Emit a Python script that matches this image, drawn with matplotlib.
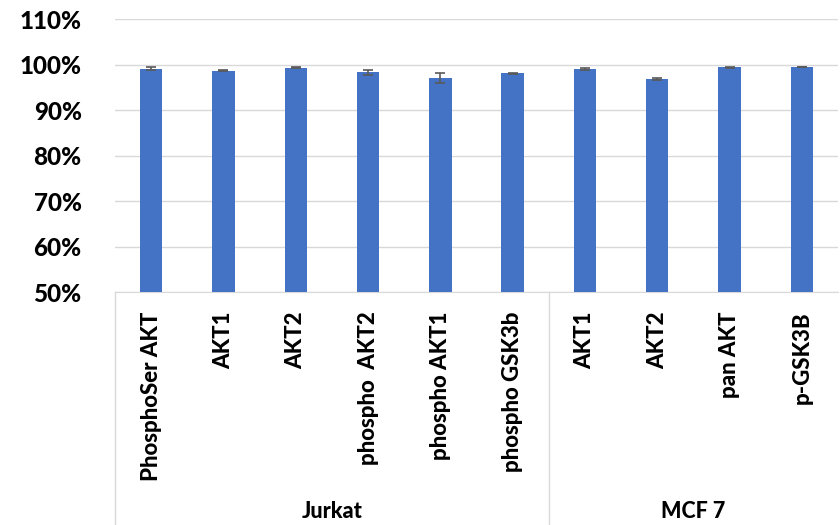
import matplotlib
matplotlib.use("Agg")
import matplotlib.pyplot as plt
import matplotlib.transforms as mtransforms
from matplotlib.ticker import FuncFormatter

# Per-antibody values (%) and their error bars
labels = ["PhosphoSer AKT", "AKT1", "AKT2", "phospho  AKT2", "phospho AKT1",
          "phospho GSK3b", "AKT1", "AKT2", "pan AKT", "p-GSK3B"]
values = [99.1, 98.7, 99.3, 98.3, 97.0, 98.1, 99.1, 96.8, 99.4, 99.5]
errors = [0.3, 0.1, 0.1, 0.45, 1.1, 0.1, 0.25, 0.2, 0.1, 0.1]
groups = ["Jurkat", "MCF 7"]
group_sizes = [6, 4]
yticks = [50, 60, 70, 80, 90, 100, 110]

plt.rcParams["font.family"] = ["Lato", "DejaVu Sans"]
W = "black"

fig = plt.figure(figsize=(8.4, 5.25), dpi=100)
ax = fig.add_axes([115 / 840, 1 - 292 / 525, 723 / 840, (292 - 19.3) / 525])

x = list(range(len(values)))
ax.bar(x, values, width=0.31, color="#4472C4", zorder=3,
       yerr=errors, error_kw=dict(ecolor="#595959", elinewidth=1.2,
                                  capsize=3.5, capthick=1.2, zorder=4))

ax.set_ylim(50, 110)
ax.set_xlim(-0.5, len(values) - 0.5)
ax.set_yticks(yticks)
ax.yaxis.set_major_formatter(FuncFormatter(lambda v, p: f"{v:.0f}%"))
ax.grid(axis="y", color="#D9D9D9", linewidth=1, zorder=0)
ax.tick_params(axis="y", length=0, pad=24, labelsize=17.5)
for t in ax.get_yticklabels():
    t.set_fontweight(W)

ax.set_xticks(x)
ax.set_xticklabels(labels, rotation=90, va="top", ha="center",
                   fontsize=16, fontweight=W)
ax.tick_params(axis="x", length=0, pad=14)

for s in ["top", "right", "left"]:
    ax.spines[s].set_visible(False)
ax.spines["bottom"].set_color("#D9D9D9")

# Group separators below the category axis
trans = mtransforms.blended_transform_factory(ax.transData, ax.transAxes)
depth = -(525 - 292) / (292 - 19.3)
edges = [-0.5]
for n in group_sizes:
    edges.append(edges[-1] + n)
for e in edges[:-1]:
    ax.plot([e, e], [0, depth], transform=trans, color="#D9D9D9",
            linewidth=1, clip_on=False)
for i, g in enumerate(groups):
    mid = (edges[i] + edges[i + 1]) / 2
    ax.text(mid, -(512 - 292) / (292 - 19.3), g, transform=trans,
            ha="center", va="center", fontsize=15.5, fontweight=W)

fig.savefig("out.png", dpi=100)
